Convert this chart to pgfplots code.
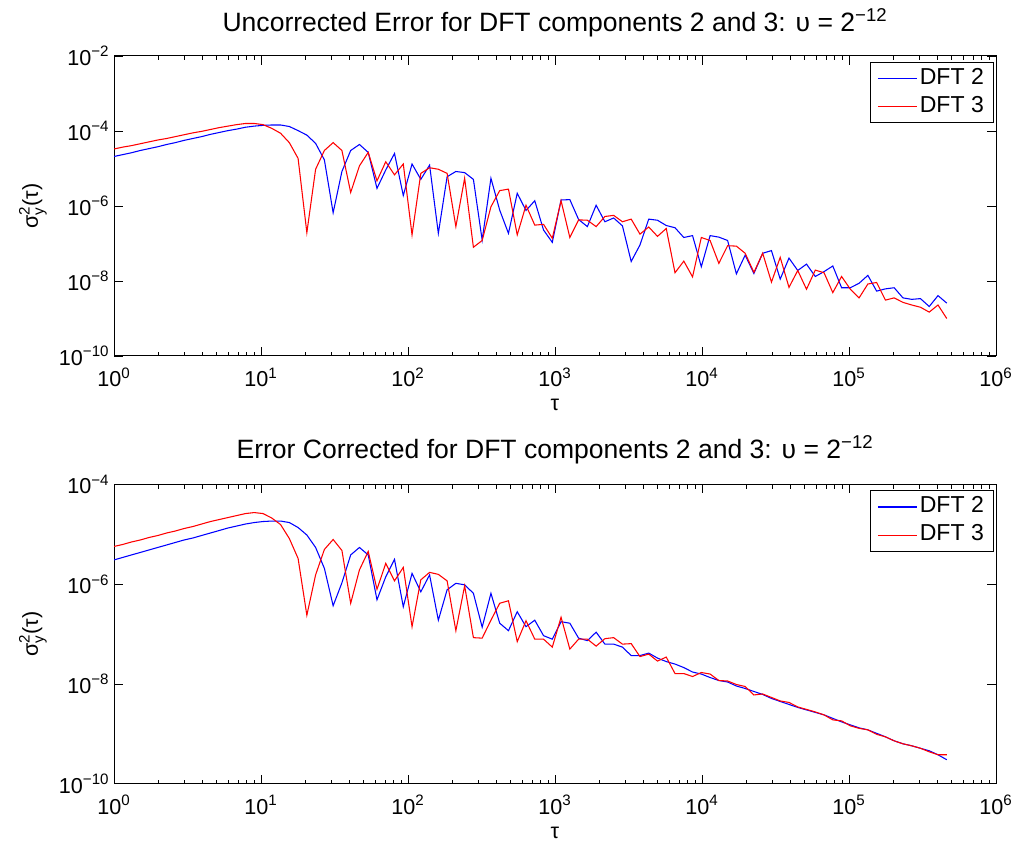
\documentclass[border=0pt]{standalone}
\usepackage{pgfplots}
\pgfplotsset{compat=1.18}
\usepackage{pgfplotstable}
\usepackage{amsmath}
\usepackage{fontspec}
\setmainfont{Liberation Sans}
\newcommand{\tickfont}{\fontsize{16.2}{19}\selectfont}
\newcommand{\legfont}{\fontsize{17.3}{20}\selectfont}
\newcommand{\titlefont}{\fontsize{19.9}{23}\selectfont}

% x = log10(tau), b = log10 sigma^2 (DFT 2), r = log10 sigma^2 (DFT 3)
\pgfplotstableread{
x b r
0.0000 -4.68 -4.48
0.0596 -4.63 -4.43
0.1193 -4.58 -4.39
0.1789 -4.52 -4.34
0.2385 -4.47 -4.29
0.2982 -4.42 -4.24
0.3578 -4.36 -4.20
0.4174 -4.31 -4.15
0.4771 -4.25 -4.10
0.5367 -4.20 -4.05
0.5963 -4.15 -4.01
0.6560 -4.09 -3.96
0.7156 -4.04 -3.91
0.7752 -3.99 -3.87
0.8348 -3.95 -3.83
0.8945 -3.90 -3.80
0.9541 -3.87 -3.80
1.0137 -3.85 -3.83
1.0734 -3.84 -3.93
1.1330 -3.84 -4.06
1.1926 -3.88 -4.31
1.2523 -3.99 -4.73
1.3119 -4.11 -6.71
1.3715 -4.33 -5.02
1.4312 -4.77 -4.52
1.4908 -6.18 -4.31
1.5504 -5.08 -4.52
1.6101 -4.52 -5.64
1.6697 -4.36 -4.93
1.7293 -4.57 -4.57
1.7890 -5.53 -5.33
1.8486 -5.04 -4.82
1.9082 -4.60 -5.17
1.9679 -5.72 -4.88
2.0275 -4.88 -6.77
2.0871 -5.29 -5.13
2.1468 -4.91 -4.98
2.2064 -6.73 -5.02
2.2660 -5.22 -5.13
2.3256 -5.08 -6.55
2.3853 -5.11 -5.26
2.4449 -5.29 -7.10
2.5045 -6.91 -6.92
2.5642 -5.26 -6.02
2.6238 -6.11 -5.59
2.6834 -6.73 -5.55
2.7431 -5.66 -6.77
2.8027 -6.12 -5.98
2.8623 -5.86 -6.51
2.9220 -6.64 -6.49
2.9816 -6.97 -6.86
3.0412 -5.84 -5.86
3.1009 -5.83 -6.84
3.1605 -6.36 -6.37
3.2201 -6.55 -6.38
3.2798 -5.98 -6.55
3.3394 -6.42 -6.28
3.3990 -6.32 -6.25
3.4587 -6.53 -6.42
3.5183 -7.48 -6.35
3.5779 -7.04 -6.75
3.6376 -6.35 -6.56
3.6972 -6.38 -6.81
3.7568 -6.52 -6.60
3.8164 -6.58 -7.78
3.8761 -6.84 -7.47
3.9357 -6.79 -7.89
3.9953 -7.62 -6.84
4.0550 -6.79 -6.92
4.1146 -6.83 -7.53
4.1742 -6.92 -7.06
4.2339 -7.81 -7.07
4.2935 -7.31 -7.26
4.3531 -7.80 -7.77
4.4128 -7.26 -7.26
4.4724 -7.19 -8.03
4.5320 -7.95 -7.37
4.5917 -7.39 -8.17
4.6513 -7.72 -7.72
4.7109 -7.55 -8.22
4.7706 -7.88 -7.71
4.8302 -7.75 -7.78
4.8898 -7.60 -8.31
4.9495 -8.18 -7.88
5.0091 -8.18 -8.22
5.0687 -8.06 -8.45
5.1284 -7.85 -8.08
5.1880 -8.27 -8.04
5.2476 -8.21 -8.51
5.3072 -8.18 -8.45
5.3669 -8.45 -8.57
5.4265 -8.49 -8.64
5.4861 -8.47 -8.70
5.5458 -8.68 -8.83
5.6054 -8.39 -8.64
5.6650 -8.59 -9.00
}\toptab

\pgfplotstableread{
x b r
0.0000 -5.51 -5.24
0.0596 -5.46 -5.20
0.1193 -5.41 -5.15
0.1789 -5.36 -5.11
0.2385 -5.31 -5.06
0.2982 -5.26 -5.02
0.3578 -5.21 -4.97
0.4174 -5.16 -4.93
0.4771 -5.11 -4.88
0.5367 -5.07 -4.84
0.5963 -5.02 -4.79
0.6560 -4.97 -4.74
0.7156 -4.92 -4.70
0.7752 -4.87 -4.66
0.8348 -4.83 -4.62
0.8945 -4.79 -4.58
0.9541 -4.76 -4.56
1.0137 -4.74 -4.58
1.0734 -4.73 -4.67
1.1330 -4.73 -4.80
1.1926 -4.76 -5.08
1.2523 -4.86 -5.48
1.3119 -5.01 -6.62
1.3715 -5.26 -5.81
1.4312 -5.68 -5.30
1.4908 -6.43 -5.10
1.5504 -5.97 -5.32
1.6101 -5.41 -6.38
1.6697 -5.26 -5.71
1.7293 -5.41 -5.34
1.7890 -6.31 -6.10
1.8486 -5.85 -5.58
1.9082 -5.50 -5.93
1.9679 -6.45 -5.66
2.0275 -5.78 -6.85
2.0871 -6.15 -5.91
2.1468 -5.81 -5.76
2.2064 -6.72 -5.80
2.2660 -6.11 -5.93
2.3256 -5.98 -6.93
2.3853 -6.01 -6.03
2.4449 -6.18 -7.07
2.5045 -6.86 -7.08
2.5642 -6.18 -6.72
2.6238 -6.78 -6.38
2.6834 -6.93 -6.33
2.7431 -6.55 -7.15
2.8027 -6.85 -6.73
2.8623 -6.72 -7.10
2.9220 -7.03 -7.10
2.9816 -7.10 -7.26
3.0412 -6.75 -6.66
3.1009 -6.78 -7.30
3.1605 -7.08 -7.10
3.2201 -7.13 -7.10
3.2798 -6.96 -7.24
3.3394 -7.20 -7.09
3.3990 -7.20 -7.07
3.4587 -7.26 -7.20
3.5183 -7.43 -7.19
3.5779 -7.43 -7.45
3.6376 -7.38 -7.40
3.6972 -7.48 -7.54
3.7568 -7.55 -7.46
3.8164 -7.60 -7.79
3.8761 -7.67 -7.79
3.9357 -7.76 -7.85
3.9953 -7.80 -7.77
4.0550 -7.87 -7.80
4.1146 -7.93 -7.93
4.1742 -7.96 -7.94
4.2339 -8.04 -8.01
4.2935 -8.09 -8.05
4.3531 -8.15 -8.22
4.4128 -8.21 -8.20
4.4724 -8.29 -8.27
4.5320 -8.35 -8.34
4.5917 -8.41 -8.37
4.6513 -8.47 -8.46
4.7109 -8.52 -8.51
4.7706 -8.57 -8.56
4.8302 -8.62 -8.62
4.8898 -8.69 -8.72
4.9495 -8.76 -8.74
5.0091 -8.82 -8.84
5.0687 -8.88 -8.89
5.1284 -8.92 -8.92
5.1880 -8.99 -9.01
5.2476 -9.06 -9.06
5.3072 -9.14 -9.14
5.3669 -9.20 -9.20
5.4265 -9.24 -9.24
5.4861 -9.29 -9.29
5.5458 -9.34 -9.36
5.6054 -9.42 -9.42
5.6650 -9.52 -9.42
}\bottab

\pgfplotsset{
  matlab/.style={
    scale only axis,
    width=661.5pt,
    xmin=0, xmax=6,
    xtick={0,1,2,3,4,5,6},
    xticklabels={10$^{\text{0}}$,10$^{\text{1}}$,10$^{\text{2}}$,10$^{\text{3}}$,10$^{\text{4}}$,10$^{\text{5}}$,10$^{\text{6}}$},
    minor xtick={0.30103,0.47712,0.60206,0.69897,0.77815,0.84510,0.90309,0.95424,
      1.30103,1.47712,1.60206,1.69897,1.77815,1.84510,1.90309,1.95424,
      2.30103,2.47712,2.60206,2.69897,2.77815,2.84510,2.90309,2.95424,
      3.30103,3.47712,3.60206,3.69897,3.77815,3.84510,3.90309,3.95424,
      4.30103,4.47712,4.60206,4.69897,4.77815,4.84510,4.90309,4.95424,
      5.30103,5.47712,5.60206,5.69897,5.77815,5.84510,5.90309,5.95424},
    tick align=inside,
    major tick length=6.4pt,
    minor tick length=3pt,
    every tick/.style={black, line width=0.7pt},
    axis line style={black, line width=0.75pt},
    ticklabel style={font=\tickfont},
    xticklabel style={anchor=base, inner ysep=0pt, yshift=-23pt},
    xlabel={τ},
    ylabel={σ$^{\text{2}}_{\text{y}}$(τ)},
    label style={font=\tickfont},
    xlabel style={at={(axis description cs:0.5,0)}, anchor=base, inner sep=0pt, yshift=-41pt},
    ylabel style={at={(axis description cs:-0.092,0.5)}, anchor=center},
    title style={font=\titlefont, at={(axis description cs:0.5,1)}, anchor=base},
    legend cell align=left,
    legend image code/.code={\draw[#1] (0pt,0pt) -- (29pt,0pt);},
    legend style={font=\legfont, draw=black, line width=0.75pt,
      at={(0.9974,0.981)}, anchor=north east,
      inner xsep=5pt, inner ysep=1.5pt, row sep=0pt,
      nodes={text height=12.6pt, text depth=4pt, inner ysep=2.3pt}},
  },
  bl/.style={color=blue, line width=0.8pt},
  rd/.style={color=red, line width=0.8pt},
}

\begin{document}
\begin{tikzpicture}
\useasboundingbox (0pt,0pt) rectangle (762pt,633.75pt);
\begin{axis}[matlab, at={(85.5pt,366.75pt)}, anchor=south west, height=225pt,
  ymin=-10, ymax=-2, ytick={-10,-8,-6,-4,-2},
  yticklabels={10$^{\text{−10}}$,10$^{\text{−8}}$,10$^{\text{−6}}$,10$^{\text{−4}}$,10$^{\text{−2}}$},
  title={Uncorrected Error for DFT components 2 and 3: υ = 2$^{\text{−12}}$},
  title style={yshift=12.5pt}]
\addplot[bl] table[x=x, y=b] {\toptab};
\addlegendentry{DFT 2}
\addplot[rd] table[x=x, y=r] {\toptab};
\addlegendentry{DFT 3}
\end{axis}
\begin{axis}[matlab, at={(85.5pt,46pt)}, anchor=south west, height=224.25pt,
  ymin=-10, ymax=-4, ytick={-10,-8,-6,-4},
  yticklabels={10$^{\text{−10}}$,10$^{\text{−8}}$,10$^{\text{−6}}$,10$^{\text{−4}}$},
  title={Error Corrected for DFT components 2 and 3: υ = 2$^{\text{−12}}$},
  title style={yshift=13.75pt}]
\addplot[bl] table[x=x, y=b] {\bottab};
\addlegendentry{DFT 2}
\addplot[rd] table[x=x, y=r] {\bottab};
\addlegendentry{DFT 3}
\end{axis}
\end{tikzpicture}
\end{document}
